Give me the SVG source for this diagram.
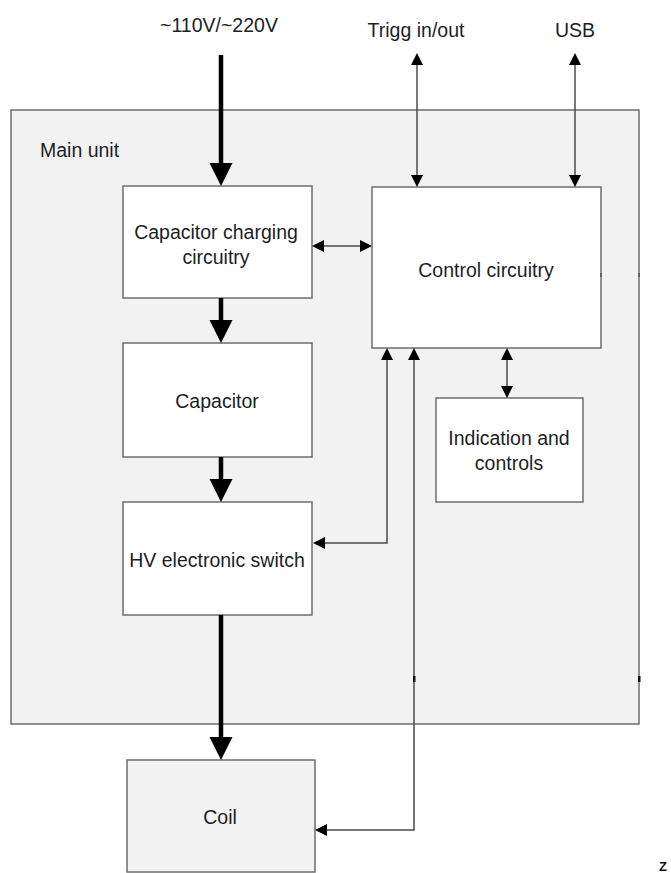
<svg xmlns="http://www.w3.org/2000/svg" width="671" height="873" viewBox="0 0 671 873">
<defs>
<style>
.box{fill:#ffffff;stroke:#6e6e6e;stroke-width:1.5}
.gbox{fill:#f2f2f2;stroke:#6e6e6e;stroke-width:1.5}
.t{font-family:"Liberation Sans",Arial,sans-serif;font-size:19.5px;fill:#1e1e1e;text-anchor:middle}
.thick{stroke:#000;stroke-width:4.5;fill:none}
.thin{stroke:#4a4a4a;stroke-width:1.5;fill:none}
</style>
<marker id="bigArrow" markerUnits="userSpaceOnUse" markerWidth="24" markerHeight="24" viewBox="0 -12 24 24" refX="0" refY="0" orient="auto">
<path d="M0,-11.5 L23,0 L0,11.5 z" fill="#000"/>
</marker>
<marker id="arr" markerUnits="userSpaceOnUse" markerWidth="13" markerHeight="13" viewBox="0 -6.5 13 13" refX="0" refY="0" orient="auto-start-reverse">
<path d="M0,-6 L12,0 L0,6 z" fill="#000"/>
</marker>
</defs>
<rect width="671" height="873" fill="#ffffff"/>

<g id="main-unit">
<rect class="gbox" x="11" y="110" width="628" height="614"/>
<text class="t" x="40" y="157" style="text-anchor:start">Main unit</text>
</g>

<g id="label-power"><text class="t" x="219" y="32">~110V/~220V</text></g>
<g id="label-trigg"><text class="t" x="416" y="37">Trigg in/out</text></g>
<g id="label-usb"><text class="t" x="575" y="37">USB</text></g>

<g id="charging">
<rect class="box" x="123" y="186" width="189" height="112"/>
<text class="t" x="216" y="239">Capacitor charging</text>
<text class="t" x="216" y="264">circuitry</text>
</g>

<g id="capacitor">
<rect class="box" x="123" y="343" width="189" height="114"/>
<text class="t" x="217" y="408">Capacitor</text>
</g>

<g id="hv-switch">
<rect class="box" x="123" y="502" width="189" height="113"/>
<text class="t" x="217" y="567">HV electronic switch</text>
</g>

<g id="control">
<rect class="box" x="372" y="187" width="229" height="161"/>
<text class="t" x="486" y="277">Control circuitry</text>
</g>

<g id="indication">
<rect class="box" x="436" y="398" width="147" height="104"/>
<text class="t" x="509" y="445">Indication and</text>
<text class="t" x="509" y="470">controls</text>
</g>

<g id="coil">
<rect class="gbox" x="127" y="760" width="188" height="112"/>
<text class="t" x="220" y="824">Coil</text>
</g>

<g id="connectors">
<line class="thick" x1="221" y1="55" x2="221" y2="163" marker-end="url(#bigArrow)"/>
<line class="thick" x1="221" y1="298" x2="221" y2="320" marker-end="url(#bigArrow)"/>
<line class="thick" x1="221" y1="457" x2="221" y2="479" marker-end="url(#bigArrow)"/>
<line class="thick" x1="221" y1="615" x2="221" y2="737" marker-end="url(#bigArrow)"/>
<line class="thin" x1="417" y1="65" x2="417" y2="175" marker-start="url(#arr)" marker-end="url(#arr)"/>
<line class="thin" x1="575" y1="65" x2="575" y2="175" marker-start="url(#arr)" marker-end="url(#arr)"/>
<line class="thin" x1="324" y1="246" x2="360" y2="246" marker-start="url(#arr)" marker-end="url(#arr)"/>
<path class="thin" d="M325,543 H387 V360" marker-start="url(#arr)" marker-end="url(#arr)"/>
<path class="thin" d="M327,830 H414 V360" marker-start="url(#arr)" marker-end="url(#arr)"/>
<line class="thin" x1="507" y1="360" x2="507" y2="386" marker-start="url(#arr)" marker-end="url(#arr)"/>
</g>

<g id="marks" fill="#111">
<rect x="413" y="676" width="2.5" height="6"/>
<rect x="638" y="676" width="2.5" height="6"/>
<rect x="600.3" y="273" width="1.5" height="4" fill="#555"/>
<rect x="638.3" y="273" width="1.5" height="4" fill="#555"/>
</g>

<g id="label-z"><text x="659" y="871" style="font-family:'Liberation Sans',Arial,sans-serif;font-size:13px;font-weight:bold;fill:#111">Z</text></g>
</svg>
